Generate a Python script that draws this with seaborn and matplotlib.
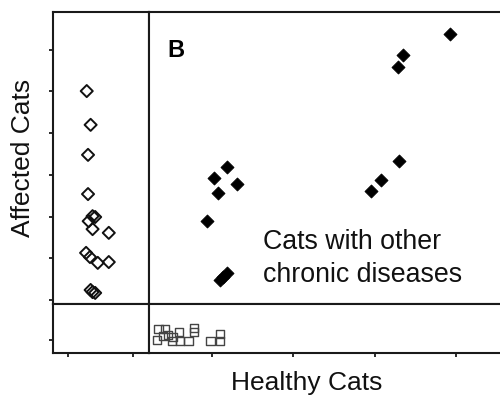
import pandas as pd
import matplotlib
matplotlib.use('Agg')
import matplotlib.pyplot as plt
import seaborn as sns

# affected cats, open diamonds in the left margin
affected_x = [1.29, 1.35, 1.31, 1.31, 1.38, 1.32, 1.42, 1.38, 1.63,
              1.28, 1.34, 1.46, 1.63, 1.38, 1.42, 1.35]
affected_y = [5.01, 4.20, 3.48, 2.54, 2.01, 1.89, 1.99, 1.70, 1.61,
              1.13, 1.03, 0.89, 0.91, 0.19, 0.17, 0.24]

# cats with other chronic diseases, filled diamonds
other_x = [3.92, 3.35, 3.28, 3.30, 3.08, 2.96, 1.19, 1.03, 1.31,
           1.07, 0.94, 1.19, 1.14, 1.10]
other_y = [6.38, 5.88, 5.59, 3.33, 2.88, 2.61, 3.19, 2.93, 2.78,
           2.57, 1.89, 0.65, 0.55, 0.48]

# healthy cats, open squares in the bottom margin
healthy_x = [0.34, 0.42, 0.32, 0.46, 0.51, 0.59, 0.61, 0.71, 0.78,
             0.78, 0.98, 1.10, 1.10, 0.52, 0.40]
healthy_y = [0.26, 0.26, 0.00, 0.12, -0.02, 0.19, -0.02, -0.02, 0.29,
             0.19, -0.02, -0.02, 0.14, 0.07, 0.10]

affected = pd.DataFrame({'x': affected_x, 'y': affected_y})
other = pd.DataFrame({'x': other_x, 'y': other_y})
healthy = pd.DataFrame({'x': healthy_x, 'y': healthy_y})

sns.set_theme(style='ticks')
plt.rcParams['font.family'] = ['Liberation Sans', 'DejaVu Sans']

fig, axes = plt.subplots(2, 2, figsize=(5, 4), dpi=100,
                         gridspec_kw={'width_ratios': [96, 351],
                                      'height_ratios': [292, 49],
                                      'wspace': 0, 'hspace': 0})
fig.subplots_adjust(left=0.106, right=1.0, top=0.97, bottom=0.1175)
ax_tl, ax_tr = axes[0]
ax_bl, ax_br = axes[1]

sns.scatterplot(data=affected, x='x', y='y', ax=ax_tl, marker='D', s=38,
                facecolor='none', edgecolor='#111111', linewidth=1.4)
sns.scatterplot(data=other, x='x', y='y', ax=ax_tr, marker='D', s=44,
                color='black', edgecolor='black', linewidth=0.6)
sns.scatterplot(data=healthy, x='x', y='y', ax=ax_br, marker='s', s=36,
                facecolor='none', edgecolor='#444444', linewidth=1.0)

for ax in (ax_tl, ax_bl):
    ax.set_xlim(0.77, 2.25)
for ax in (ax_tr, ax_br):
    ax.set_xlim(0.225, 4.54)
for ax in (ax_tl, ax_tr):
    ax.set_ylim(-0.096, 6.906)
for ax in (ax_bl, ax_br):
    ax.set_ylim(-0.312, 0.863)

for ax in axes.flat:
    ax.set_xlabel('')
    ax.set_ylabel('')
    ax.set_xticks([])
    ax.set_yticks([])
    for side in ax.spines:
        ax.spines[side].set_linewidth(1.5)
        ax.spines[side].set_color('#1a1a1a')
    ax.tick_params(direction='out', length=3, width=1.3, color='#1a1a1a',
                   labelleft=False, labelbottom=False)
for ax in (ax_tr, ax_br):
    ax.spines['right'].set_visible(False)

ax_tl.set_yticks(range(7))
ax_bl.set_yticks([0])
ax_bl.set_xticks([1, 2])
ax_br.set_xticks([1, 2, 3, 4])

ax_tl.set_ylabel('Affected Cats', fontsize=19, labelpad=10, color='#111111')
fig.text(0.614, 1 - 390 / 400, 'Healthy Cats', fontsize=19, ha='center',
         va='baseline', color='#111111')
fig.text(167 / 500, 1 - 57 / 400, 'B', fontsize=17, fontweight='bold',
         ha='left', va='baseline', color='#000000')
fig.text(263 / 500, 1 - 282 / 400, 'Cats with other\nchronic diseases',
         fontsize=19.3, ha='left', va='baseline', linespacing=1.33,
         color='#111111')

fig.savefig('out.png', dpi=100)
